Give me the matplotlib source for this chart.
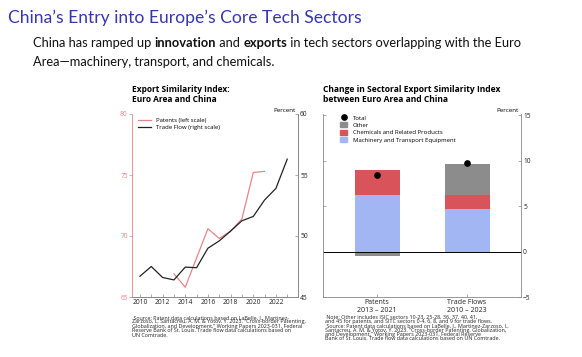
import numpy as np
import matplotlib.pyplot as plt
from matplotlib.lines import Line2D
from matplotlib.patches import Patch

# left panel: export similarity index
years_pat = [2013, 2014, 2015, 2016, 2017, 2018, 2019, 2020, 2021]
patents = [66.9, 65.8, 68.2, 70.6, 69.8, 70.4, 71.4, 75.2, 75.3]
years_trade = list(range(2010, 2024))
trade = [46.7, 47.5, 46.6, 46.4, 47.45, 47.4, 49.0, 49.6, 50.4, 51.25, 51.6, 52.95, 53.9, 56.3]

# right panel: change in sectoral similarity
groups = ["Patents\n2013 \u2013 2021", "Trade Flows\n2010 \u2013 2023"]
machinery = [6.25, 4.7]
chemicals = [2.7, 1.5]
other = [-0.5, 3.4]
total = [8.45, 9.7]

BLUE_T = "#3636b0"
PINK = "#e3868a"
GREY = "#8c8c8c"
SP = "#888888"
CF = "Open Sans"
SF = "Lato"

W, H = 582, 357
fig = plt.figure(figsize=(W / 100, H / 100), dpi=100)

def fx(px):
    return px / W

def fy(py):
    return 1 - py / H

# slide header
fig.text(fx(8), fy(18), "China\u2019s Entry into Europe\u2019s Core Tech Sectors",
         family=SF, fontsize=12.6, color=BLUE_T, va="center", ha="left")

renderer = fig.canvas.get_renderer()
def run_line(x, y, parts, size):
    for s, w in parts:
        t = fig.text(fx(x), fy(y), s, family=SF, fontsize=size, fontweight=w,
                     va="center", ha="left", color="#111111")
        x = t.get_window_extent(renderer).x1
    return x

run_line(33, 43, [("China has ramped up ", "normal"), ("innovation", "bold"),
                  (" and ", "normal"), ("exports", "bold"),
                  (" in tech sectors overlapping with the Euro", "normal")], 9.3)
run_line(33, 62, [("Area\u2014machinery, transport, and chemicals.", "normal")], 9.3)

# ---- left chart
ax1 = fig.add_axes([fx(132), fy(297), fx(298) - fx(132), fy(114) - fy(297)])
ax2 = ax1.twinx()
ax1.plot(years_pat, patents, color=PINK, lw=0.9, label="Patents (left scale)")
ax2.plot(years_trade, trade, color="#222222", lw=0.9, label="Trade Flow (right scale)")
ax1.set_xlim(2009.3, 2023.95)
ax1.set_ylim(65, 80)
ax2.set_ylim(45, 60)
ax1.set_yticks([65, 70, 75, 80])
ax2.set_yticks([45, 50, 55, 60])
ax1.set_xticks(range(2010, 2024))
ax1.set_xticklabels([str(y) if y % 2 == 0 else "" for y in range(2010, 2024)])
for a in (ax1, ax2):
    a.spines["top"].set_visible(False)
    for s in ("bottom", "right"):
        a.spines[s].set_color(SP)
        a.spines[s].set_linewidth(0.6)
    a.spines["left"].set_visible(False)
ax1.spines["left"].set_visible(True)
ax1.spines["left"].set_color(PINK)
ax1.spines["left"].set_linewidth(0.6)
ax2.spines["right"].set_visible(True)
ax1.tick_params(axis="y", colors=PINK, labelsize=4.8, length=2, width=0.5, pad=1)
ax1.tick_params(axis="x", colors=SP, labelcolor="#222222", labelsize=4.8,
                direction="in", length=2, width=0.5, pad=1.5)
ax2.tick_params(axis="y", colors=SP, labelcolor="#222222", labelsize=4.8,
                direction="in", length=2, width=0.5, pad=1.5)
for lab in ax1.get_xticklabels() + ax1.get_yticklabels() + ax2.get_yticklabels():
    lab.set_family(CF)
h1, l1 = ax1.get_legend_handles_labels()
h2, l2 = ax2.get_legend_handles_labels()
ax1.legend(h1 + h2, l1 + l2, loc="upper left", bbox_to_anchor=(0.0, 1.01), frameon=False,
           prop={"family": CF, "size": 4.3}, handlelength=2.2, handletextpad=0.9,
           labelspacing=0.3, borderaxespad=0.6)
fig.text(fx(296), fy(110.5), "Percent", family=CF, fontsize=4.5, ha="right", va="center")
fig.text(fx(131.5), fy(85.5), "Export Similarity Index:\nEuro Area and China", family=CF,
         fontsize=6.0, fontweight="bold", ha="left", va="top", linespacing=1.05)

# ---- right chart
bx = fig.add_axes([fx(323), fy(297), fx(521) - fx(323), fy(114) - fy(297)])
pos = np.arange(len(groups))
base_pos = np.zeros(len(groups))
base_neg = np.zeros(len(groups))
for vals, col in ((machinery, "#a2b6f4"), (chemicals, "#d9545a"), (other, GREY)):
    vals = np.array(vals)
    bottom = np.where(vals >= 0, base_pos, base_neg)
    bx.bar(pos, vals, bottom=bottom, width=0.5, color=col, linewidth=0)
    base_pos = base_pos + np.clip(vals, 0, None)
    base_neg = base_neg + np.clip(vals, None, 0)
bx.plot(pos, total, "o", color="black", ms=3.8, zorder=5)
bx.axhline(0, color="black", lw=0.7)
bx.set_xlim(-0.6, 1.6)
bx.set_ylim(-5, 15.15)
bx.set_xticks(pos)
bx.set_xticklabels(groups, family=CF, fontsize=5.0, linespacing=1.2)
bx.yaxis.tick_right()
bx.set_yticks([-5, 0, 5, 10, 15])
bx.tick_params(axis="y", which="both", left=True, right=True, direction="in",
               length=2, width=0.5, colors=SP, labelcolor="#222222", labelsize=4.8, pad=1.5)
bx.tick_params(axis="x", direction="in", length=2, width=0.5, colors=SP,
               labelcolor="#222222", pad=1.2)
for lab in bx.get_yticklabels():
    lab.set_family(CF)
bx.spines["top"].set_visible(False)
for s in ("left", "right", "bottom"):
    bx.spines[s].set_color(SP)
    bx.spines[s].set_linewidth(0.6)
handles = [Line2D([], [], marker="o", ls="", color="black", ms=3.8),
           Patch(color=GREY), Patch(color="#d9545a"), Patch(color="#a2b6f4")]
labels = ["Total", "Other", "Chemicals and Related Products", "Machinery and Transport Equipment"]
bx.legend(handles, labels, loc="upper left", frameon=False, prop={"family": CF, "size": 4.3},
          handlelength=1.3, handleheight=0.9, handletextpad=0.9, labelspacing=0.3,
          borderaxespad=0.4, bbox_to_anchor=(0.06, 1.02))
fig.text(fx(519), fy(111), "Percent", family=CF, fontsize=4.5, ha="right", va="center")
fig.text(fx(323), fy(85.5), "Change in Sectoral Export Similarity Index\nbetween Euro Area and China",
         family=CF, fontsize=6.1, fontweight="bold", ha="left", va="top", linespacing=1.05)

# notes
left_note = [
    " Source: Patent data calculations based on LaBelle, J., Martinez-",
    "Zarzoso, I., Santacreu, A. M. & Yotov, Y. 2023. \u201cCross-border Patenting,",
    "Globalization, and Development,\u201d Working Papers 2023-031, Federal",
    "Reserve Bank of St. Louis. Trade flow data calculations based on",
    "UN Comtrade.",
]
right_note = [
    " Note: Other includes ISIC sectors 10-23, 25-28, 36, 37, 40, 41,",
    "and 45 for patents, and SITC sectors 0-4, 6, 8, and 9 for trade flows.",
    " Source: Patent data calculations based on LaBelle, J., Martinez-Zarzoso, I.,",
    "Santacreu, A. M. & Yotov, Y. 2023. \u201cCross-border Patenting, Globalization,",
    "and Development,\u201d Working Papers 2023-031, Federal Reserve",
    "Bank of St. Louis. Trade flow data calculations based on UN Comtrade.",
]
for i, line in enumerate(left_note):
    fig.text(fx(132), fy(317.5 + 4.4 * i), line, family=CF, fontsize=3.9, va="center",
             color="#222222")
for i, line in enumerate(right_note):
    fig.text(fx(325), fy(317 + 4.4 * i), line, family=CF, fontsize=3.9, va="center",
             color="#222222")

fig.savefig("out.png", dpi=100)
